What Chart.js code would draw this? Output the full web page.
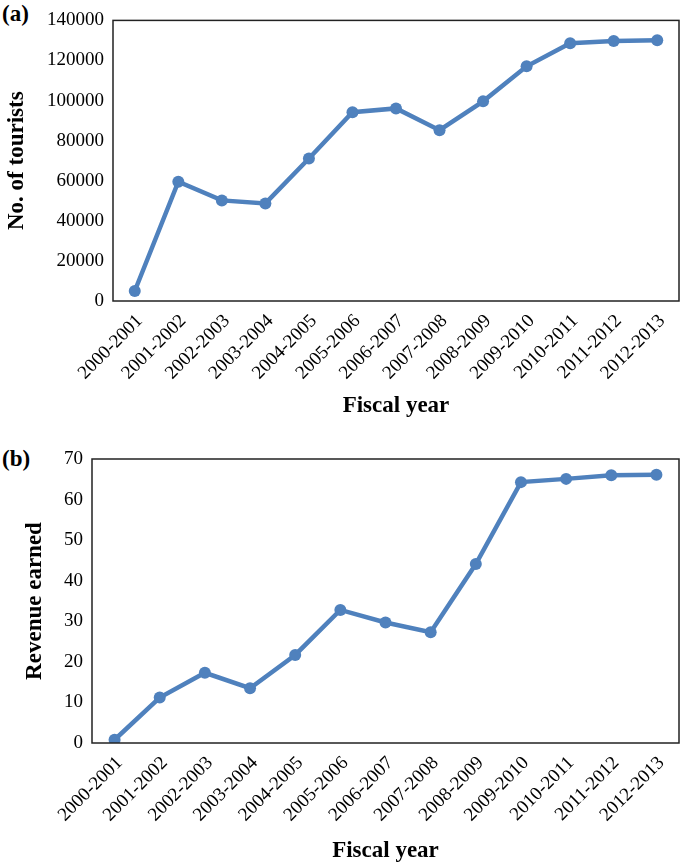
<!DOCTYPE html>
<html>
<head>
<meta charset="utf-8">
<script src="https://cdn.jsdelivr.net/npm/chart.js@4"></script>
<style>
  body { margin: 0; background: #fff; width: 685px; height: 865px; position: relative; overflow: hidden; }
  .panel { position: absolute; left: 0; width: 685px; height: 430px; }
  .tag { position: absolute; left: 2px; font: bold 23px "Liberation Serif", serif; color: #000; }
</style>
</head>
<body>
<div class="tag" style="top:1px">(a)</div>
<div class="panel" style="top:0"><canvas id="turistasChart" width="685" height="430"></canvas></div>
<div class="tag" style="top:446px">(b)</div>
<div class="panel" style="top:435px"><canvas id="ingresosChart" width="685" height="430"></canvas></div>
<script>
// datos
const anios = ['2000-2001', '2001-2002', '2002-2003', '2003-2004', '2004-2005', '2005-2006', '2006-2007',
  '2007-2008', '2008-2009', '2009-2010', '2010-2011', '2011-2012', '2012-2013'];
const turistas = [5000, 59500, 50200, 48700, 71100, 94200, 96100, 85200, 99600, 117100, 128600, 129700, 130100];
const ingresos = [0.8, 11.2, 17.3, 13.5, 21.7, 32.8, 29.7, 27.3, 44.1, 64.3, 65.1, 66.0, 66.1];

const azul = '#4F81BD';
const fuente = 'Liberation Serif';
Chart.defaults.font.family = fuente;

// marco completo alrededor del área de trazado
const marco = {
  id: 'marco',
  afterDraw(chart) {
    const a = chart.chartArea;
    const ctx = chart.ctx;
    ctx.save();
    ctx.strokeStyle = '#222';
    ctx.lineWidth = 1.5;
    ctx.strokeRect(a.left, a.top, a.right - a.left, a.bottom - a.top);
    ctx.restore();
  }
};

function crearGrafica(idCanvas, datos, cfg) {
  const ctx = document.getElementById(idCanvas).getContext('2d');
  return new Chart(ctx, {
    type: 'line',
    data: {
      labels: anios,
      datasets: [{
        data: datos,
        borderColor: azul,
        backgroundColor: azul,
        borderWidth: 4.5,
        pointRadius: 6,
        pointBorderWidth: 0,
        pointBackgroundColor: azul,
        tension: 0
      }]
    },
    options: {
      responsive: false,
      animation: false,
      layout: { padding: { top: cfg.padTop, right: cfg.padRight, left: 0, bottom: 0 } },
      plugins: { legend: { display: false }, tooltip: { enabled: false } },
      scales: {
        x: {
          offset: true,
          grid: { display: false, drawTicks: false },
          border: { display: false },
          ticks: {
            autoSkip: false, maxRotation: 45, minRotation: 45, padding: 9, labelOffset: 5,
            color: '#000', font: { family: fuente, size: 19 }
          },
          title: {
            display: true, text: 'Fiscal year', color: '#000',
            font: { family: fuente, size: 23, weight: 'bold' },
            padding: { top: 0, bottom: cfg.xTitlePad }
          },
          afterFit: s => { s.height = cfg.xAlto; }
        },
        y: {
          min: 0, max: cfg.max,
          grid: { display: false, drawTicks: false },
          border: { display: false },
          ticks: {
            stepSize: cfg.paso, padding: 9,
            color: '#000', font: { family: fuente, size: 19 },
            callback: v => String(v)
          },
          title: {
            display: true, text: cfg.tituloY, color: '#000',
            font: { family: fuente, size: 23, weight: 'bold' },
            padding: { top: cfg.yTitlePad, bottom: 0 }
          },
          afterFit: s => { s.width = cfg.yAncho; }
        }
      }
    },
    plugins: [marco]
  });
}

function dibujar() {
  crearGrafica('turistasChart', turistas, {
    max: 140000, paso: 20000, tituloY: 'No. of tourists',
    padTop: 17, padRight: 2, yAncho: 113, xAlto: 129, xTitlePad: 10, yTitlePad: 3
  });
  crearGrafica('ingresosChart', ingresos, {
    max: 70, paso: 10, tituloY: 'Revenue earned',
    padTop: 24, padRight: 4, yAncho: 92, xAlto: 122, xTitlePad: 0, yTitlePad: 21
  });
}

Promise.all([
  document.fonts.load('19px "Liberation Serif"'),
  document.fonts.load('bold 23px "Liberation Serif"')
]).then(dibujar, dibujar);
</script>
</body>
</html>
